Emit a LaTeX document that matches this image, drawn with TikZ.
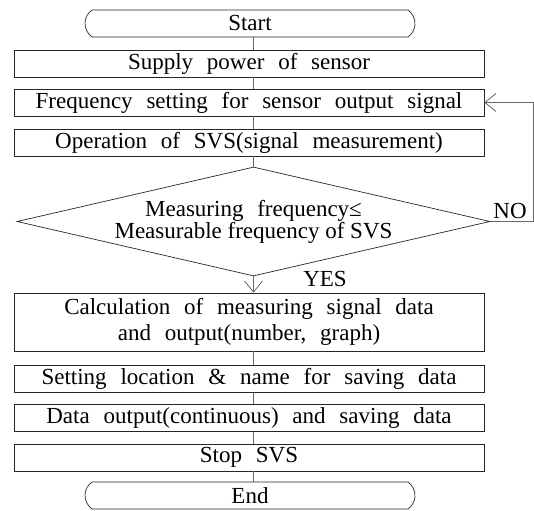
\documentclass[tikz,border=0pt]{standalone}
\usepackage{fontspec}
\setmainfont{Liberation Serif}
\usetikzlibrary{shapes.geometric,shapes.misc,arrows.meta}
\newcommand\boxfont{\fontsize{23}{26}\selectfont\spaceskip 0.6em\relax}
\newcommand\testfont{\fontsize{23}{19}\selectfont\spaceskip 0.6em\relax}

\begin{document}
\begin{tikzpicture}[x=1pt,y=-1pt,
  font=\boxfont,
  stepbox/.style={draw=black!85,line width=0.7pt,rectangle,
    minimum width=470pt,minimum height=27pt,inner sep=0pt},
  endbox/.style={draw=black!85,line width=0.7pt,rounded rectangle,
    rounded rectangle arc length=110,minimum width=330pt,minimum height=27pt,inner sep=0pt},
  testbox/.style={draw=black!85,line width=0.7pt,diamond,aspect=4.34,
    minimum width=473pt,minimum height=109pt,inner sep=0pt},
  line/.style={draw=black!60,line width=0.8pt},
  tip/.style={-{Straight Barb[length=11pt,width=18pt]}}]
\useasboundingbox (0,0) rectangle (534,510);
% top part
\node[endbox] (start) at (250,23.5) {Start};
\node[stepbox] (power) at (249,63.5) {Supply power of sensor};
\node[stepbox] (freq) at (249,102.5) {Frequency setting for sensor output signal};
\node[stepbox] (svs) at (249,142.5) {Operation of SVS(signal measurement)};
% decision
\node[testbox,align=center,font=\testfont] (check) at (253.5,221.5)
  {Measuring frequency≤\\{\spaceskip 0pt Measurable frequency of SVS}};
% bottom part
\node[stepbox,minimum height=58pt,align=center] (calc) at (249,322)
  {Calculation of measuring signal data\\and output(number, graph)};
\node[stepbox] (place) at (249,379) {Setting location \& name for saving data};
\node[stepbox] (save) at (249,418) {Data output(continuous) and saving data};
\node[stepbox] (stop) at (249,457.5) {Stop SVS};
\node[endbox] (end) at (250,495.5) {End};
% connectors
\foreach \a/\b in {start/power,power/freq,freq/svs,svs/check,calc/place,place/save,save/stop,stop/end}
  \draw[line] (\a.south -| check) -- (\b.north -| check);
\draw[line,tip] (check.south) -- (calc.north -| check);
\node (yes) at (325,279) {YES};
% loop back
\coordinate (turn) at (533,221.5);
\draw[line,tip] (check.east) -- (turn) |- (freq.east);
\node (no) at (510,211) {NO};
\end{tikzpicture}
\end{document}
